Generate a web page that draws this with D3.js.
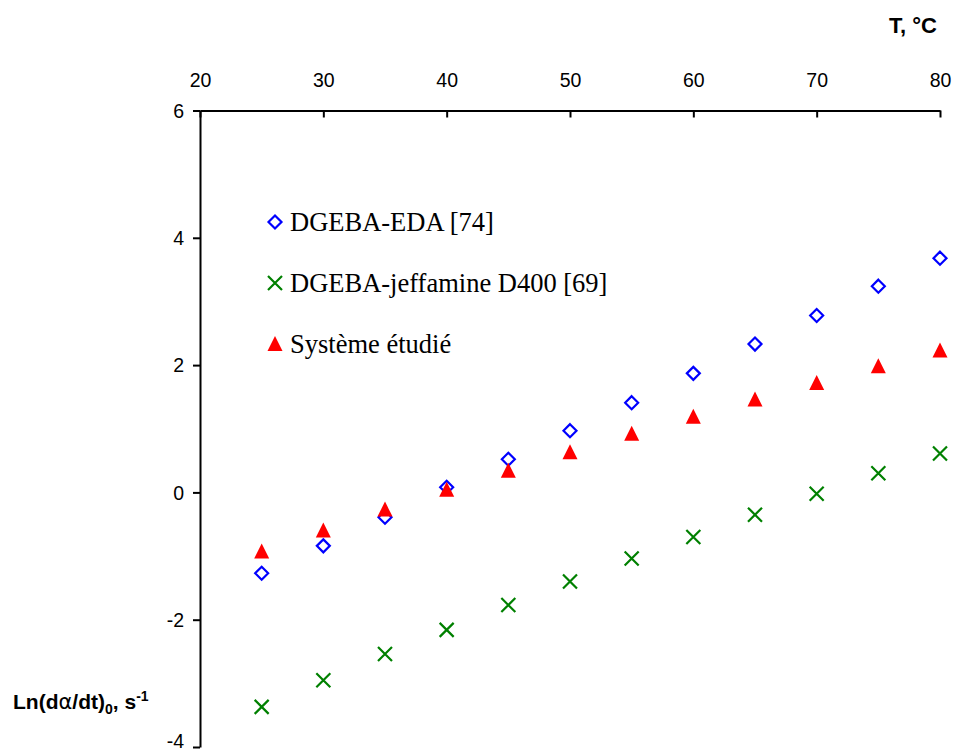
<!DOCTYPE html>
<html>
<head>
<meta charset="utf-8">
<script src="https://cdn.jsdelivr.net/npm/d3@7"></script>
<style>
  html, body { margin: 0; padding: 0; background: #fff; }
  svg { display: block; }
</style>
</head>
<body>
<svg id="chart" width="953" height="753"></svg>
<script>
// ---- Data ----
const temperatures = [25, 30, 35, 40, 45, 50, 55, 60, 65, 70, 75, 80];
const edaValues = [-1.27, -0.84, -0.39, 0.08, 0.52, 0.97, 1.41, 1.87, 2.33, 2.78, 3.24, 3.68];
const jeffamineValues = [-3.37, -2.95, -2.54, -2.16, -1.77, -1.40, -1.04, -0.70, -0.35, -0.02, 0.30, 0.61];
const systemeValues = [-0.93, -0.60, -0.27, 0.04, 0.34, 0.63, 0.92, 1.19, 1.46, 1.72, 1.98, 2.23];
const seriesNames = ["DGEBA-EDA [74]", "DGEBA-jeffamine D400 [69]", "Système étudié"];
const xTicks = [20, 30, 40, 50, 60, 70, 80];
const yTicks = [-4, -2, 0, 2, 4, 6];

const svg = d3.select("#chart");
const x = d3.scaleLinear().domain([20, 80]).range([200, 940]);
const y = d3.scaleLinear().domain([-4, 6]).range([747, 110.5]);
const sans = "Liberation Sans, Arial, sans-serif";

// Top x axis (ticks pointing down into plot, labels above)
const xAxisG = svg.append("g").attr("transform", `translate(0,${y(6)})`)
  .call(d3.axisBottom(x).tickValues(xTicks).tickSize(7).tickSizeOuter(0).tickFormat(d => String(d)));
xAxisG.select(".domain").attr("stroke", "#000").attr("stroke-width", 2);
xAxisG.selectAll(".tick line").attr("stroke", "#000").attr("stroke-width", 2);
xAxisG.selectAll(".tick text")
  .attr("y", -24).attr("dy", 0)
  .attr("font-family", sans)
  .attr("font-size", 19.5).attr("fill", "#000");

// Left y axis
const yAxisG = svg.append("g").attr("transform", `translate(${x(20)},0)`)
  .call(d3.axisLeft(y).tickValues(yTicks).tickSize(7).tickSizeOuter(0).tickFormat(d => String(d)));
yAxisG.select(".domain").attr("stroke", "#000").attr("stroke-width", 2);
yAxisG.selectAll(".tick line").attr("stroke", "#000").attr("stroke-width", 2);
yAxisG.selectAll(".tick text")
  .attr("x", -16)
  .attr("dy", d => d === -4 ? "0em" : "0.35em")
  .attr("font-family", sans)
  .attr("font-size", 19.5).attr("fill", "#000");

// Axis titles
svg.append("text").attr("x", 937).attr("y", 33).attr("text-anchor", "end")
  .attr("font-family", sans).attr("font-weight", "bold")
  .attr("font-size", 22).text("T, °C");

const yt = svg.append("text").attr("x", 13).attr("y", 709)
  .attr("font-family", sans).attr("font-weight", "bold")
  .attr("font-size", 21);
yt.append("tspan").text("Ln(d");
yt.append("tspan").attr("font-family", "DejaVu Sans, sans-serif").attr("font-weight", "normal").text("α");
yt.append("tspan").text("/dt)");
yt.append("tspan").attr("font-size", 14).attr("dy", 5).text("0");
yt.append("tspan").attr("dy", -5).text(", s");
yt.append("tspan").attr("font-size", 14).attr("dy", -8).text("-1");

// Marker drawers
const blue = "#0000ff", green = "#008000", red = "#ff0000";
function diamond(g, cx, cy) {
  g.append("path").attr("d", `M${cx},${cy-6.5}L${cx+6.5},${cy}L${cx},${cy+6.5}L${cx-6.5},${cy}Z`)
    .attr("fill", "none").attr("stroke", blue).attr("stroke-width", 2.2);
}
function cross(g, cx, cy) {
  g.append("path").attr("d", `M${cx-7},${cy-7}L${cx+7},${cy+7}M${cx-7},${cy+7}L${cx+7},${cy-7}`)
    .attr("fill", "none").attr("stroke", green).attr("stroke-width", 2.2);
}
function triangle(g, cx, cy) {
  g.append("path").attr("d", `M${cx},${cy-8}L${cx+7.5},${cy+7}L${cx-7.5},${cy+7}Z`)
    .attr("fill", red);
}

const marks = svg.append("g");
const seriesDefs = [
  { values: edaValues, draw: diamond },
  { values: jeffamineValues, draw: cross },
  { values: systemeValues, draw: triangle }
];
[seriesDefs[1], seriesDefs[0], seriesDefs[2]].forEach(s => {
  temperatures.forEach((t, i) => s.draw(marks, x(t), y(s.values[i])));
});

// Legend
const legend = svg.append("g");
const legendY = [222, 283, 344];
seriesDefs.forEach((s, i) => {
  s.draw(legend, 275, legendY[i]);
  legend.append("text").attr("x", 290).attr("y", legendY[i] + 9)
    .attr("font-family", "Liberation Serif, Times New Roman, serif")
    .attr("font-size", 26.5).attr("fill", "#000").text(seriesNames[i]);
});
</script>
</body>
</html>
